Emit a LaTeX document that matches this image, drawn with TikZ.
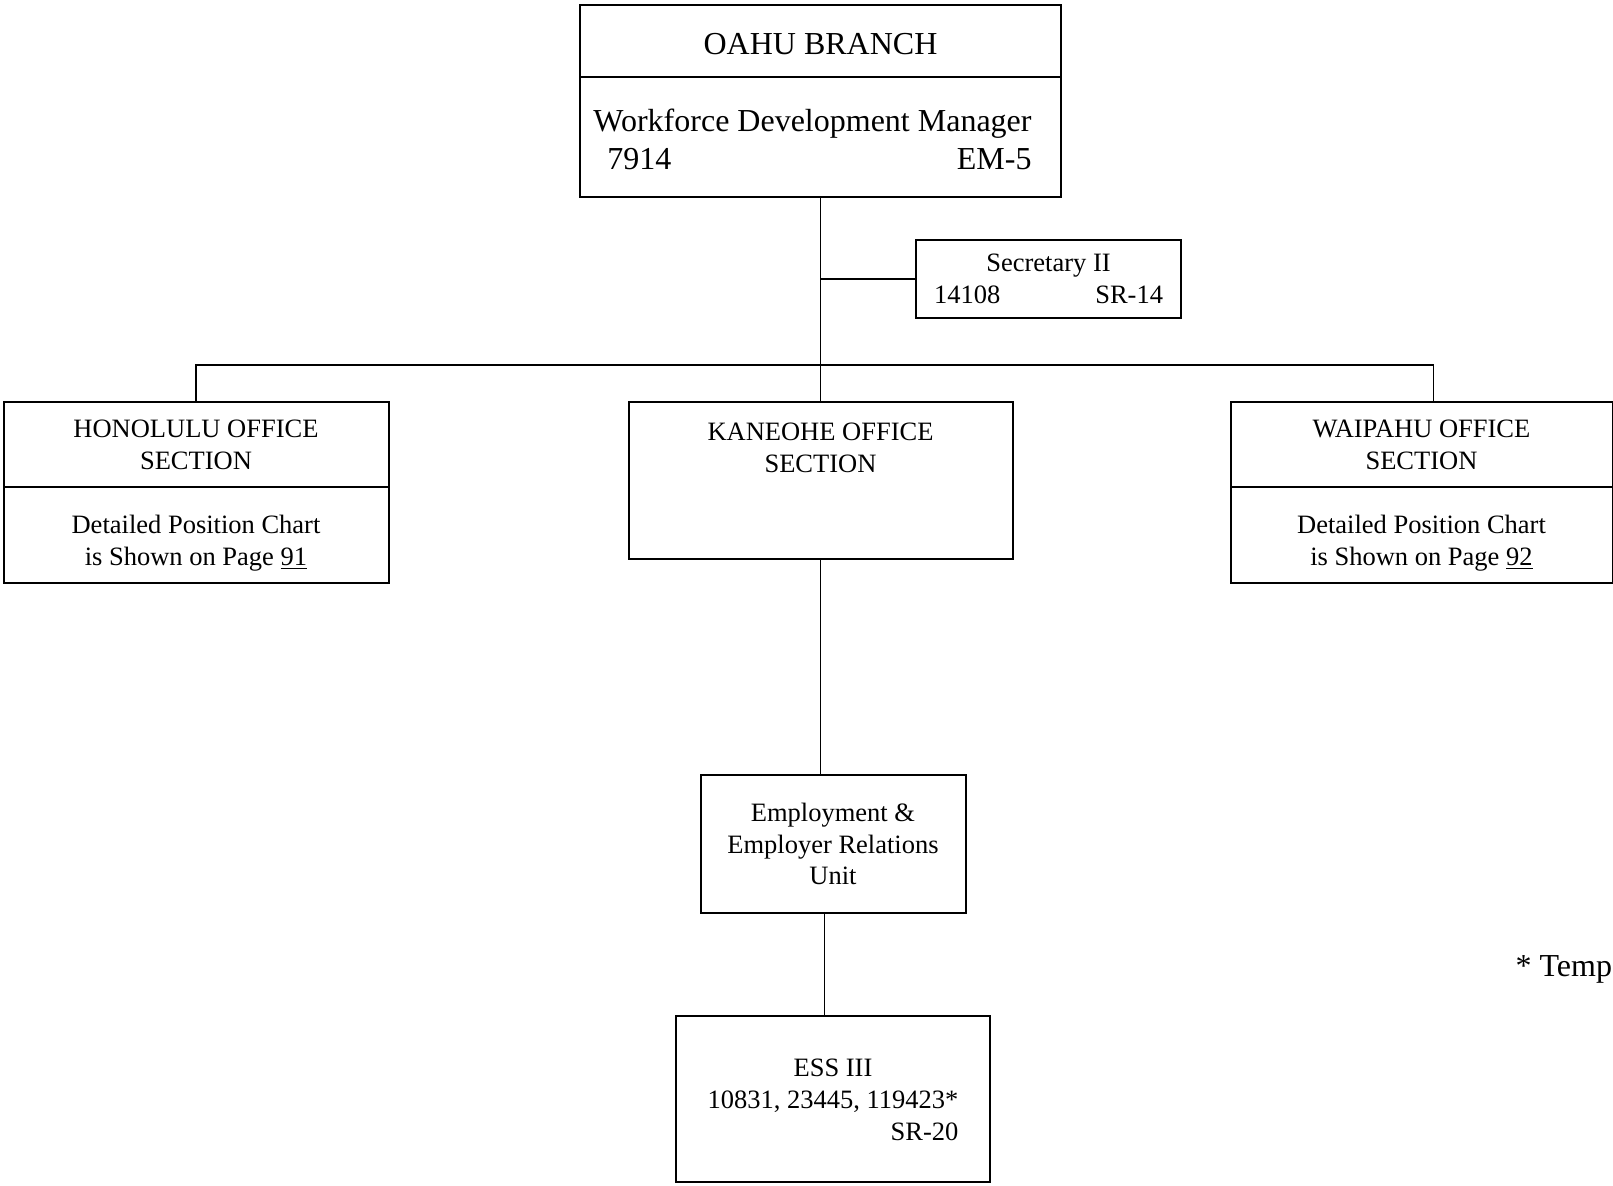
\documentclass[tikz,border=0pt]{standalone}
\usepackage{fontspec}
\setmainfont{Liberation Serif}
\usetikzlibrary{positioning}
\newcommand{\chartbig}{\fontsize{16}{19.2}\selectfont}
\newcommand{\chartsmall}{\fontsize{13.25}{15.9}\selectfont}
\tikzstyle{post box}=[
        draw = black,
        line width = 1pt,
        outer sep = 0pt,
        inner sep = 0pt,
        align = center,
        font = \chartsmall
    ]

\begin{document}
\begin{tikzpicture}[line width=0.6pt, head/.style = {post box, font=\chartbig}]
        \useasboundingbox (0,0) rectangle (806.5pt,-593pt);

        \node[head, minimum width=240.5pt, minimum height=36pt, anchor=north] (oahu) at (410.25pt,-2.5pt) {\rule{0pt}{14pt}OAHU BRANCH};
        \node[head, minimum width=240.5pt, minimum height=60pt] (manager) [below=0pt of oahu]
            {\begin{tabular}{@{}l@{\hspace{8pt}}}\rule{0pt}{19.5pt}Workforce Development Manager\\\hspace{7pt}7914\hfill EM-5\end{tabular}};
        \node[post box, minimum width=132.5pt, minimum height=39pt] (secretary) [below right=21.5pt and 47.75pt of manager.south]
            {\begin{tabular}{@{}c@{}}\rule{0pt}{13pt}Secretary II\\\makebox[114.5pt]{14108\hfill SR-14}\end{tabular}};

        \node[post box, minimum width=192pt, minimum height=78.5pt] (kaneohe) [below=102.5pt of manager] {};
        \node[minimum height=45pt, inner sep=0pt, align=center, font=\chartsmall, anchor=north] (kaneohetitle) at (kaneohe.north) {KANEOHE OFFICE\\SECTION};
        \node[post box, minimum width=192.5pt, minimum height=42.5pt] (honolulu) [left=120pt of kaneohe.north west, anchor=north east] {HONOLULU OFFICE\\SECTION};
        \node[post box, minimum width=192.5pt, minimum height=48pt] (honoluluchart) [below=0pt of honolulu]
            {\begin{tabular}{@{}c@{}}\rule{0pt}{19pt}Detailed Position Chart\\is Shown on Page \underline{91}\end{tabular}};
        \node[post box, minimum width=191pt, minimum height=42.5pt] (waipahu) [right=109pt of kaneohe.north east, anchor=north west] {WAIPAHU OFFICE\\SECTION};
        \node[post box, minimum width=191pt, minimum height=48pt] (waipahuchart) [below=0pt of waipahu]
            {\begin{tabular}{@{}c@{}}\rule{0pt}{19pt}Detailed Position Chart\\is Shown on Page \underline{92}\end{tabular}};

        \node[post box, minimum width=132.5pt, minimum height=69pt] (unit) [below=108pt of kaneohe, xshift=6.25pt] {Employment \&\\Employer Relations\\Unit};
        \node[post box, minimum width=157pt, minimum height=83pt] (ess) [below=51.5pt of unit]
            {\begin{tabular}{@{}c@{}}\rule{0pt}{14.5pt}ESS III\\10831, 23445, 119423*\\\hfill SR-20\end{tabular}};

        \node[inner sep=0pt, font=\chartbig, anchor=base west] (tempnote) at (757.5pt,-488.5pt) {* Temp};

        \coordinate (bus) at ([yshift=-84pt]manager.south);
        \draw (manager.south) -- (manager.south |- kaneohe.north);
        \draw (secretary.west) -- (secretary.west -| manager.south);
        \draw (honolulu.north) |- (bus) -| ([xshift=6pt]waipahu.north);
        \draw (kaneohe.south) -- (kaneohe.south |- unit.north);
        \draw ([xshift=-4.25pt]unit.south) -- ([xshift=-4.25pt]unit.south |- ess.north);
    \end{tikzpicture}
\end{document}
